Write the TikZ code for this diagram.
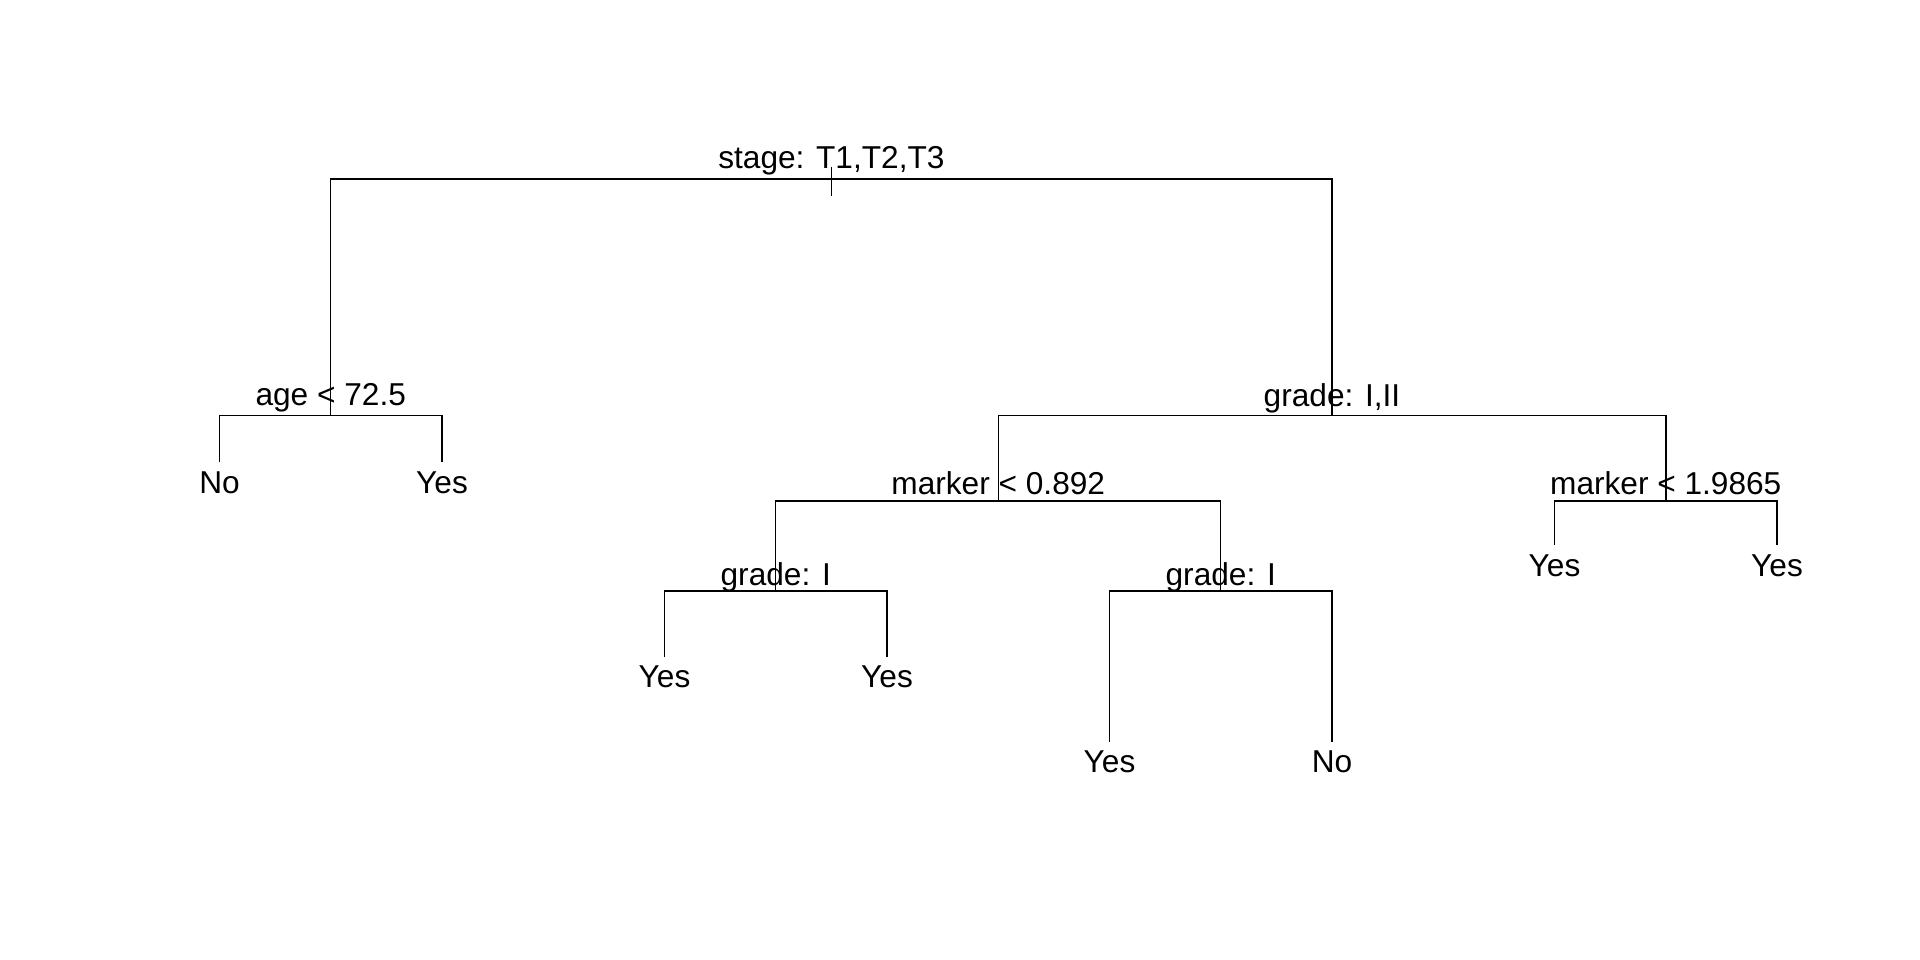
\documentclass[tikz,border=0pt]{standalone}
\usepackage{fontspec}
\setmainfont{Liberation Sans}
\usetikzlibrary{positioning}

\begin{document}
\begin{tikzpicture}[x=0.1mm, y=-0.1mm, line width=0.42pt,
  split/.style={anchor=base, inner sep=0pt, font=\fontsize{9}{11}\selectfont},
  leaf/.style={anchor=north, inner xsep=0pt, inner ysep=0.85mm, font=\fontsize{9}{11}\selectfont}]
\useasboundingbox (0,0) rectangle (1920,960);

% split points
\coordinate (root) at (831.4,179);
\coordinate (age) at (330.75,415.7);
\coordinate (grade) at (1332,415.7);
\coordinate (marklo) at (998.25,501);
\coordinate (markhi) at (1665.75,501);
\coordinate (gradelo) at (775.75,591);
\coordinate (gradehi) at (1220.75,591);
\coordinate (tiptop) at (831.4,167);
\coordinate (tipbot) at (831.4,196);

% split labels
\node[split] (tstage) at (831.4,168) {stage: T1,T2,T3};
\node[split] (tage) at (330.75,405.7) {age < 72.5};
\node[split] (tgrade) at (1332,406.5) {grade: I,II};
\node[split] (tmarklo) at (998.25,494.3) {marker < 0.892};
\node[split] (tmarkhi) at (1665.75,494.3) {marker < 1.9865};
\node[split] (tgradelo) at (775.75,585) {grade: I};
\node[split] (tgradehi) at (1220.75,585) {grade: I};

% leaves
\node[leaf] (n0) at (219.5,462.3) {No};
\node[leaf] (y1) at (442,462.3) {Yes};
\node[leaf] (y2) at (664.5,656.7) {Yes};
\node[leaf] (y3) at (887,656.7) {Yes};
\node[leaf] (y4) at (1109.5,741.7) {Yes};
\node[leaf] (n5) at (1332,741.7) {No};
\node[leaf] (y6) at (1554.5,545) {Yes};
\node[leaf] (y7) at (1777,545) {Yes};

% branches
\draw[line width=0.32pt] (tiptop) -- (tipbot);
\draw (age) |- (root) -| (grade);
\draw (n0.north) |- (age) -| (y1.north);
\draw (marklo) |- (grade) -| (markhi);
\draw (gradelo) |- (marklo) -| (gradehi);
\draw (y2.north) |- (gradelo) -| (y3.north);
\draw (y4.north) |- (gradehi) -| (n5.north);
\draw (y6.north) |- (markhi) -| (y7.north);
\end{tikzpicture}
\end{document}
